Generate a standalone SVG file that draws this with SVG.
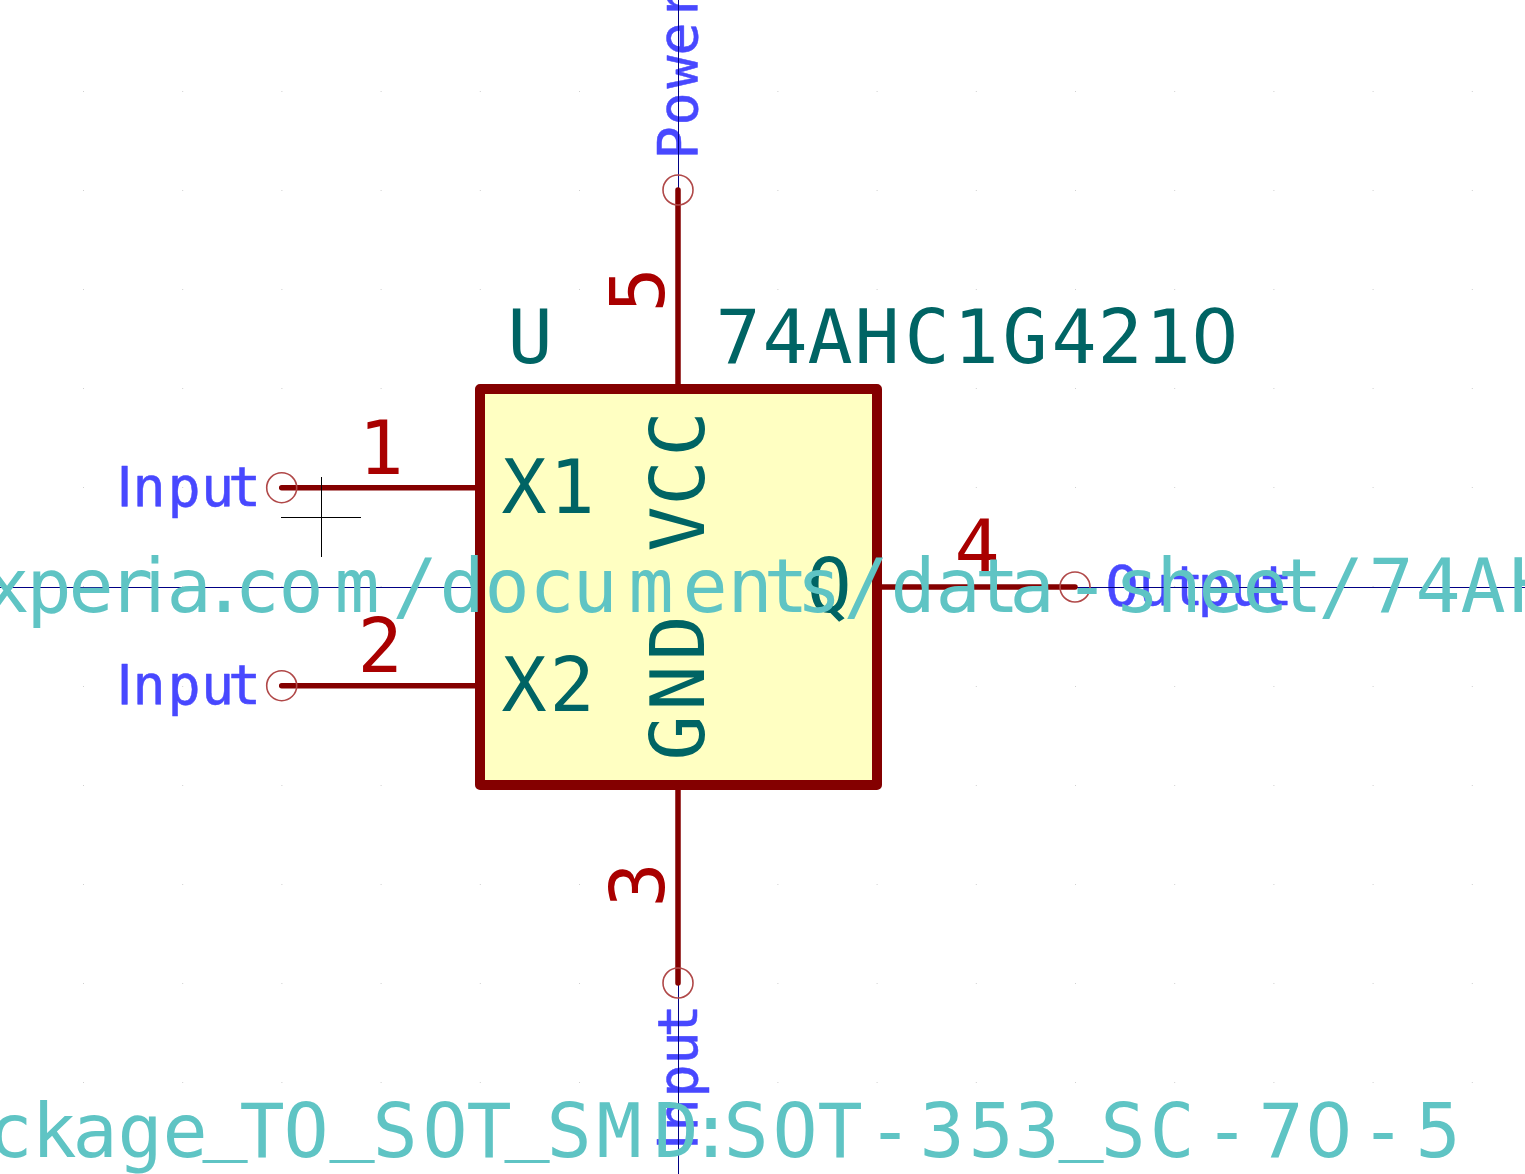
<svg xmlns="http://www.w3.org/2000/svg" width="1525" height="1174" viewBox="0 0 1525 1174">
<style>
text{font-family:"DejaVu Sans Mono",monospace;stroke-linejoin:round}
.s{font-family:"DejaVu Sans",sans-serif}
.grid{stroke:#d0d0d0;stroke-width:1;stroke-dasharray:1 98.2;fill:none}
.pin{stroke:#840000;stroke-width:5.500;stroke-linecap:round;fill:none}
.ep{stroke:#b04848;stroke-width:1.600;fill:none}
.ax{stroke:#000084;stroke-width:1;fill:none}
.cross{stroke:#000;stroke-width:1;fill:none}
.num{fill:#a90000;font-size:75px}
.sig{fill:#4848ff;stroke:#4848ff;stroke-width:.5;font-size:55px}
.ref{fill:#006464;font-size:75px}
.fld{fill:#5fc4c4;font-size:75px}
</style>
<rect width="1525" height="1174" fill="#fff"/>
<path class="grid" d="M83 91.500H1500M83 190.500H1500M83 289.500H1500M83 388.500H1500M83 487.500H1500M83 586.500H1500M83 686.500H1500M83 785.500H1500M83 884.500H1500M83 983.500H1500M83 1082.500H1500"/>
<g id="pin-labels">
<text class="sig" x="116.500 132.400 167.400 200.900 227.900" y="506"><tspan class="s">I</tspan>nput</text>
<text class="sig" x="116.500 132.400 167.400 200.900 227.900" y="704"><tspan class="s">I</tspan>nput</text>
<text class="sig" transform="translate(697 0) rotate(-90)" x="-1150 -1131.600 -1097.600 -1064.600 -1037.600" y="0"><tspan class="s">I</tspan>nput</text>
<text class="sig" x="1105.400 1138.400 1170.400 1197.400 1230.400 1259.400" y="605">Output</text>
<text class="sig" transform="translate(697 0) rotate(-90)" x="-159.600 -125.600 -88.600 -55.600 -20" y="0">Power</text>
</g>
<g id="axes"><path class="ax" d="M0 587.500H1525M678.500 0V1174"/></g>
<g id="connectors">
<path class="pin" d="M281.700 487.700H480M281.700 685.700H480M678 190V389M678 983V785M877 587H1075"/>
<path class="cross" d="M281 517.500H361M321.500 477V557"/>
</g>
<g id="symbol-body"><rect x="480" y="389" width="397" height="396" fill="#ffffc2" stroke="#840000" stroke-width="10" stroke-linejoin="round"/></g>
<g id="endpoints"><circle class="ep" cx="281.700" cy="487.700" r="15"/><circle class="ep" cx="281.700" cy="685.700" r="15"/><circle class="ep" cx="678" cy="190" r="15"/><circle class="ep" cx="678" cy="983" r="15"/><circle class="ep" cx="1075" cy="587" r="15"/></g>
<g id="pin1"><text class="num" x="358.400" y="474">1</text><text class="ref" x="501.400 549.400" y="513">X1</text></g>
<g id="pin2"><text class="num" x="357.400" y="672">2</text><text class="ref" x="501.400 549.400" y="711">X2</text></g>
<g id="pin3"><text class="num" transform="translate(664 0) rotate(-90)" x="-907.600" y="0">3</text><text class="ref" transform="translate(704 0) rotate(-90)" x="-760.600 -710.600 -660.600" y="0">GND</text></g>
<g id="pin4"><text class="num" x="954.400" y="573">4</text><text class="ref" x="806.400" y="612">Q</text></g>
<g id="pin5"><text class="num" transform="translate(664 0) rotate(-90)" x="-312.600" y="0">5</text><text class="ref" transform="translate(704 0) rotate(-90)" x="-551.600 -505.600 -456.600" y="0">VCC</text></g>
<g id="labels"><text class="ref" x="507.400" y="363">U</text><text class="ref" x="715.400 762.400 807.400 854.400 904.400 953.400 1002.400 1051.400 1097.400 1145.400 1191.100" y="363">74AHC1G421<tspan class="s">0</tspan></text></g>
<g id="fields">
<text class="fld" x="-15.600 26.400 68.400 108 144.600 166.400 201.400 234.400 278.400 334.400 392.400 439.400 484.400 529.400 572.400 628.400 682.400 727.400 763.400 796.400 843.400 890.400 935.400 974.400 1009.400 1064.400 1114.400 1156.400 1198.400 1242.400 1277.400 1318.400 1368.400 1415.400 1460.400 1509.400" y="612">xper<tspan class="s">i</tspan>a.com/documents/data-sheet/74AH</text>
<text class="fld" x="-12.600 31.400 72.400 117.400 162.400 202.400 239.400 283.400 329.400 372.400 422.400 466.400 504.400 546.400 596.400 653.400 688.400 723.400 772.400 817.400 867.400 919.400 968.400 1014.400 1058.400 1100.400 1149.400 1204.400 1258.400 1305.100 1360.400 1415.400" y="1157 1157 1157 1157 1157 1145 1157 1157 1145 1157 1157 1157 1145 1157 1157 1157 1157 1157 1157 1157 1157 1157 1157 1157 1145 1157 1157 1157 1157 1157 1157 1157">ckage_TO_SOT_SMD:SOT-353_SC-7<tspan class="s">0</tspan>-5</text>
</g>
</svg>
